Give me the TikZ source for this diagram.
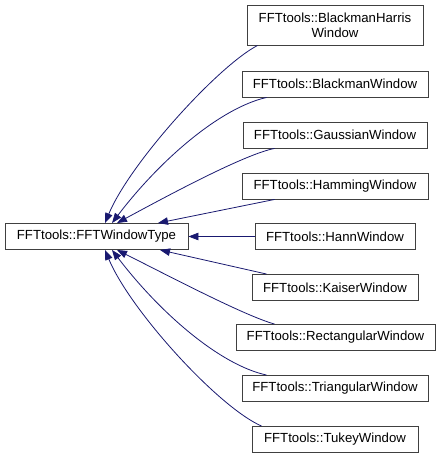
\documentclass[tikz,border=0pt]{standalone}
\usepackage{fontspec}
\setmainfont{Liberation Sans}
\usetikzlibrary{arrows.meta}
\definecolor{edgeblue}{HTML}{191970}
\definecolor{boxline}{HTML}{404040}

\begin{document}
\begin{tikzpicture}[
    x=1pt, y=-1pt,
    cls/.style={rectangle, draw=boxline, fill=white, line width=0.9pt, minimum height=26pt, inner sep=0pt, align=center, font=\fontsize{13.2}{15}\selectfont},
    inherit/.style={{Triangle[length=10pt,width=7.5pt]}-, draw=edgeblue, line width=0.8pt}
]
\useasboundingbox (0,0) rectangle (440,458);

\node[cls, minimum width=183pt] (base) at (96.5,236.5) {FFTtools::FFTWindowType};
\node[cls, minimum width=176pt, minimum height=40pt] (harris) at (335,25) {FFTtools::BlackmanHarris\\Window};
\node[cls, minimum width=186pt] (blackman) at (335,84) {FFTtools::BlackmanWindow};
\node[cls, minimum width=184pt] (gauss) at (335,135) {FFTtools::GaussianWindow};
\node[cls, minimum width=186pt] (hamming) at (335,186) {FFTtools::HammingWindow};
\node[cls, minimum width=160pt] (hann) at (335,236.5) {FFTtools::HannWindow};
\node[cls, minimum width=166pt] (kaiser) at (335,287.5) {FFTtools::KaiserWindow};
\node[cls, minimum width=199pt] (rect) at (335.5,337.5) {FFTtools::RectangularWindow};
\node[cls, minimum width=186pt] (tri) at (335,388.5) {FFTtools::TriangularWindow};
\node[cls, minimum width=166pt] (tukey) at (335,439.5) {FFTtools::TukeyWindow};

% derived classes point back to the base class
\draw[inherit] ([xshift=8.5pt]base.north) .. controls (130,163) and (218,66) .. ([xshift=11pt]harris.south west);
\draw[inherit] ([xshift=15.5pt]base.north) .. controls (160,160) and (220,108) .. ([xshift=25pt]blackman.south west);
\draw[inherit] ([xshift=20.5pt]base.north) .. controls (167,196) and (245,154) .. ([xshift=32pt]gauss.south west);
\draw[inherit] ([xshift=61.5pt]base.north) -- ([xshift=33pt]hamming.south west);
\draw[inherit] (base.east) -- (hann.west);
\draw[inherit] ([xshift=63.5pt]base.south) -- ([xshift=15pt]kaiser.north west);
\draw[inherit] ([xshift=20.5pt]base.south) .. controls (167,275) and (245,316) .. ([xshift=39pt]rect.north west);
\draw[inherit] ([xshift=15.5pt]base.south) .. controls (160,313) and (220,365) .. ([xshift=25pt]tri.north west);
\draw[inherit] ([xshift=8.5pt]base.south) .. controls (130,310) and (218,407) .. ([xshift=10pt]tukey.north west);
\end{tikzpicture}
\end{document}
